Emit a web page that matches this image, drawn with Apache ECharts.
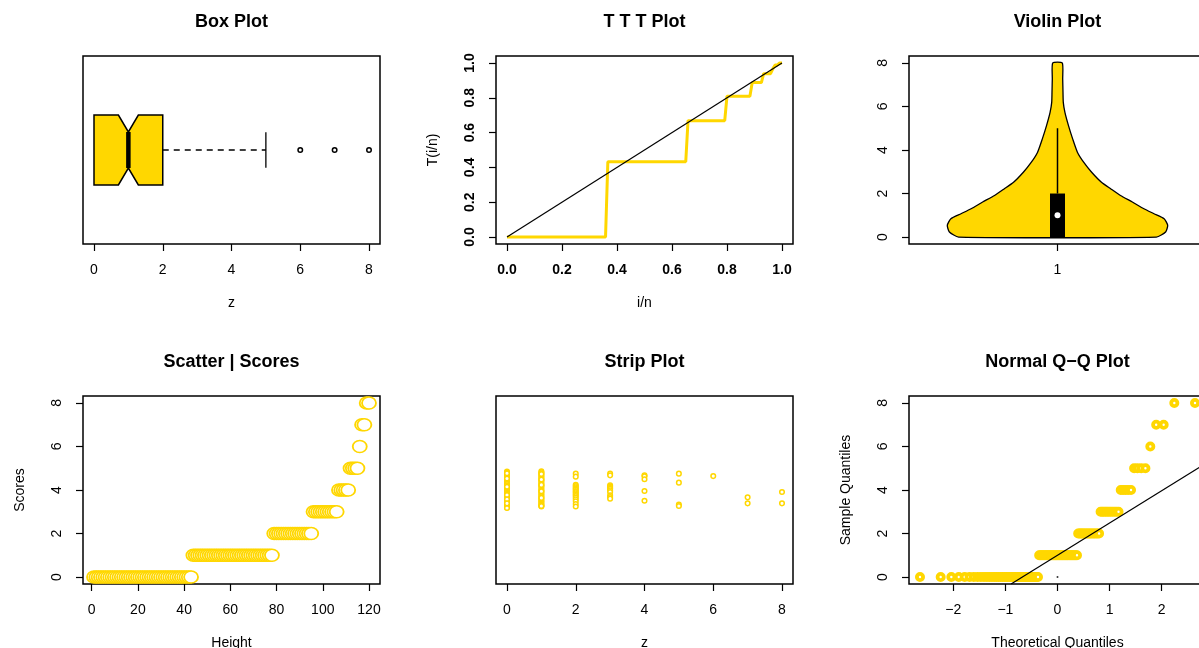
<!DOCTYPE html>
<html>
<head>
<meta charset="utf-8">
<script src="https://cdn.jsdelivr.net/npm/echarts@6/dist/echarts.min.js"></script>
<style>
  html, body { margin: 0; padding: 0; background: #fff; overflow: hidden; }
  #chart { width: 1212px; height: 648px; }
</style>
</head>
<body>
<div id="chart"></div>
<script>
// sample, sorted (n = 120)
const z = [
  0,0,0,0,0,0,0,0,0,0, 0,0,0,0,0,0,0,0,0,0, 0,0,0,0,0,0,0,0,0,0, 0,0,0,0,0,0,0,0,0,0, 0,0,0,
  1,1,1,1,1,1,1,1,1,1, 1,1,1,1,1,1,1,1,1,1, 1,1,1,1,1,1,1,1,1,1, 1,1,1,1,1,
  2,2,2,2,2,2,2,2,2,2, 2,2,2,2,2,2,2,
  3,3,3,3,3,3,3,3,3,3, 3,
  4,4,4,4,4,
  5,5,5,5,
  6,
  7,7,
  8,8
];

// box plot: lower whisker, Q1, median, Q3, upper whisker
const boxStats = [0, 0, 1, 2, 5];
const boxNotch = [0.71, 1.29];
const boxOutliers = [6, 7, 8];

// TTT plot corners (i/n, T(i/n))
const tttPoints = [
  [0, 0], [0.3583, 0], [0.3667, 0.4326], [0.65, 0.4326], [0.6583, 0.6685],
  [0.7917, 0.6685], [0.8, 0.809], [0.8833, 0.809], [0.8917, 0.8876], [0.925, 0.8876],
  [0.9333, 0.9382], [0.9583, 0.9382], [0.9667, 0.9663], [0.975, 0.9888], [0.9833, 0.9888],
  [0.9917, 1], [1, 1]
];
const tttDiagonal = [[0, 0], [1, 1]];

// violin outline (value, half width in x units)
const violinY = [0, 0.23, 0.54, 0.84, 1.07, 1.3, 1.61, 1.91, 2.22, 2.52, 2.98, 3.44, 3.9, 4.51, 5.12, 5.73, 6.19, 6.65, 7.27, 8];
const violinHalfWidth = [0.333, 0.364, 0.371, 0.359, 0.325, 0.291, 0.252, 0.212, 0.179, 0.148, 0.115, 0.088, 0.067, 0.051, 0.037, 0.025, 0.0195, 0.0185, 0.0175, 0.016];
const violinBox = [0, 1, 2, 5]; // Q1, median, Q3, whisker top

// strip chart jitter, one list per value 0..8
const stripJitter = [
  [1.098, 1.093, 1.086, 1.081, 1.075, 1.070, 1.064, 1.058, 1.053, 1.047,
   1.042, 1.036, 1.031, 1.025, 1.020, 1.014, 1.009, 1.003, 0.998, 0.992,
   0.987, 0.981, 0.976, 0.970, 0.965, 0.959, 0.954, 0.948, 0.943, 0.937,
   0.932, 0.926, 0.921, 0.916, 0.911, 0.907, 0.904, 1.089, 1.061, 1.017,
   0.973, 0.951, 0.929],
  [1.099, 1.094, 1.088, 1.080, 1.073, 1.067, 1.059, 1.052, 1.046, 1.038,
   1.031, 1.024, 1.018, 1.010, 1.003, 0.996, 0.989, 0.982, 0.975, 0.968,
   0.961, 0.953, 0.946, 0.940, 0.934, 0.927, 0.921, 0.916, 0.912, 1.085,
   1.056, 1.027, 0.993, 0.958, 0.915],
  [1.087, 1.071, 1.028, 1.021, 1.015, 1.008, 1.002, 0.995, 0.989, 0.982,
   0.975, 0.968, 0.960, 0.951, 0.940, 0.925, 0.912],
  [1.087, 1.078, 1.025, 1.019, 1.012, 1.006, 0.998, 0.989, 0.972, 0.963, 0.954],
  [1.078, 1.073, 1.057, 0.995, 0.943],
  [1.087, 1.039, 0.922, 0.915],
  [1.074],
  [0.961, 0.929],
  [0.989, 0.929]
];

// normal Q-Q: theoretical quantile for each rank
const qqTheoretical = [
  -2.6380, -2.2412, -2.0368, -1.8932, -1.7805, -1.6867, -1.6057, -1.5341, -1.4697, -1.4107,
  -1.3564, -1.3057, -1.2582, -1.2133, -1.1709, -1.1303, -1.0916, -1.0546, -1.0187, -0.9843,
  -0.9510, -0.9185, -0.8872, -0.8566, -0.8268, -0.7978, -0.7694, -0.7416, -0.7144, -0.6877,
  -0.6614, -0.6356, -0.6103, -0.5853, -0.5607, -0.5364, -0.5125, -0.4888, -0.4654, -0.4422,
  -0.4193, -0.3966, -0.3741, -0.3518, -0.3297, -0.3077, -0.2858, -0.2642, -0.2426, -0.2211,
  -0.1998, -0.1785, -0.1573, -0.1362, -0.1151, -0.0941, -0.0732, -0.0522, -0.0313, -0.0104,
  0.0104, 0.0313, 0.0522, 0.0732, 0.0941, 0.1151, 0.1362, 0.1573, 0.1785, 0.1998,
  0.2211, 0.2426, 0.2642, 0.2858, 0.3077, 0.3297, 0.3518, 0.3741, 0.3966, 0.4193,
  0.4422, 0.4654, 0.4888, 0.5125, 0.5364, 0.5607, 0.5853, 0.6103, 0.6356, 0.6614,
  0.6877, 0.7144, 0.7416, 0.7694, 0.7978, 0.8268, 0.8566, 0.8872, 0.9185, 0.9510,
  0.9843, 1.0187, 1.0546, 1.0916, 1.1303, 1.1709, 1.2133, 1.2582, 1.3057, 1.3564,
  1.4107, 1.4697, 1.5341, 1.6057, 1.6867, 1.7805, 1.8932, 2.0368, 2.2412, 2.6380
];
const qqLine = [[-0.89, -0.32], [2.85, 5.23]];
const qqDot = [[0, 0]];

// tick labels
const ticksZ = [0, 2, 4, 6, 8];
const ticksUnit = [0, 0.2, 0.4, 0.6, 0.8, 1.0];
const ticksViolinX = [1];
const ticksHeight = [0, 20, 40, 60, 80, 100, 120];
const ticksQQ = [-2, -1, 0, 1, 2];

const GOLD = '#FFD700';
const FONT = 'Liberation Sans, Arial, Helvetica, sans-serif';

const cols = [83, 496, 909];
const rows = [56, 396];
const W = 297, H = 188;

const grids = [];
rows.forEach(top => cols.forEach(left => {
  grids.push({ left: left, top: top, width: W, height: H, show: true,
    outerBoundsMode: 'none', containLabel: false,
    borderColor: '#000', borderWidth: 1.5, backgroundColor: 'transparent' });
}));

function axis(gridIndex, min, max, ticks, opts) {
  opts = opts || {};
  return {
    type: 'value', gridIndex: gridIndex, min: min, max: max,
    axisLine: { show: false, onZero: false },
    splitLine: { show: false },
    axisTick: { show: !!ticks, customValues: ticks, length: 7, inside: false,
      lineStyle: { color: '#000', width: 1.2 } },
    axisLabel: { show: !!ticks, customValues: ticks, color: '#000', fontFamily: FONT,
      fontSize: 14, fontWeight: opts.bold ? 'bold' : 'normal', margin: opts.margin || 19,
      rotate: opts.rotate || 0, formatter: opts.formatter,
      showMinLabel: true, showMaxLabel: true, hideOverlap: false },
    name: opts.name || '', nameLocation: 'middle', nameGap: opts.nameGap || 52,
    nameTextStyle: { color: '#000', fontFamily: FONT, fontSize: 14 }
  };
}

const minus = v => String(v).replace('-', '\u2212');
const oneDec = v => v.toFixed(1);

const xAxes = [
  axis(0, -0.32, 8.32, ticksZ, { name: 'z' }),
  axis(1, -0.04, 1.04, ticksUnit, { name: 'i/n', bold: true, formatter: oneDec }),
  axis(2, 0.5, 1.5, ticksViolinX),
  axis(3, -3.76, 124.76, ticksHeight, { name: 'Height' }),
  axis(4, -0.32, 8.32, ticksZ, { name: 'z' }),
  axis(5, -2.849, 2.849, ticksQQ, { name: 'Theoretical Quantiles', formatter: minus })
];
const yAxes = [
  axis(0, 0, 1, null),
  axis(1, -0.04, 1.04, ticksUnit, { name: 'T(i/n)', nameGap: 56, bold: true, rotate: 90, formatter: oneDec }),
  axis(2, -0.32, 8.32, ticksZ, { rotate: 90 }),
  axis(3, -0.32, 8.32, ticksZ, { name: 'Scores', nameGap: 56, rotate: 90 }),
  axis(4, 0.5, 1.5, null),
  axis(5, -0.32, 8.32, ticksZ, { name: 'Sample Quantiles', nameGap: 56, rotate: 90 })
];

function seg(a, b, style) {
  return { type: 'line', shape: { x1: a[0], y1: a[1], x2: b[0], y2: b[1] },
    style: Object.assign({ stroke: '#000', lineWidth: 1.5 }, style) };
}

function renderBox(params, api) {
  const q1 = boxStats[1], med = boxStats[2], q3 = boxStats[3], hi = boxStats[4];
  const c = 0.5, h = 0.186, hn = 0.096, hs = 0.094;
  const p = (x, y) => api.coord([x, y]);
  const poly = [
    p(q1, c + h), p(boxNotch[0], c + h), p(med, c + hn), p(boxNotch[1], c + h), p(q3, c + h),
    p(q3, c - h), p(boxNotch[1], c - h), p(med, c - hn), p(boxNotch[0], c - h), p(q1, c - h)
  ];
  return { type: 'group', children: [
    seg(p(q3, c), p(hi, c), { lineDash: [6, 5], lineWidth: 1.3 }),
    seg(p(hi, c - hs), p(hi, c + hs), { lineWidth: 1.3 }),
    { type: 'polygon', shape: { points: poly }, style: { fill: GOLD, stroke: '#000', lineWidth: 1.5 } },
    seg(p(med, c - hn), p(med, c + hn), { lineWidth: 4.5 })
  ] };
}

function renderViolin(params, api) {
  const p = (x, y) => api.coord([x, y]);
  const pts = [];
  violinY.forEach((y, i) => pts.push(p(1 - violinHalfWidth[i], y)));
  for (let i = violinY.length - 1; i >= 0; i--) pts.push(p(1 + violinHalfWidth[i], violinY[i]));
  const bw = 0.0253;
  const tl = p(1 - bw, violinBox[2]), br = p(1 + bw, violinBox[0]);
  const m = p(1, violinBox[1]);
  return { type: 'group', children: [
    { type: 'polygon', shape: { points: pts, smooth: 0.2 }, style: { fill: GOLD, stroke: '#000', lineWidth: 1.3 } },
    seg(p(1, violinBox[2]), p(1, violinBox[3]), { lineWidth: 1.5 }),
    { type: 'rect', shape: { x: tl[0], y: tl[1], width: br[0] - tl[0], height: br[1] - tl[1] }, style: { fill: '#000' } },
    { type: 'circle', shape: { cx: m[0], cy: m[1], r: 3 }, style: { fill: '#fff' } }
  ] };
}

const stripData = [];
stripJitter.forEach((list, v) => list.forEach(j => stripData.push([v, j])));

const ring = (stroke, width) => ({ color: '#fff', borderColor: stroke, borderWidth: width, opacity: 1 });

const series = [
  { type: 'custom', xAxisIndex: 0, yAxisIndex: 0, renderItem: renderBox, data: [[0, 0]] },
  { type: 'scatter', xAxisIndex: 0, yAxisIndex: 0, data: boxOutliers.map(v => [v, 0.5]),
    symbol: 'circle', symbolSize: 4.5, itemStyle: ring('#000', 1.5) },

  { type: 'line', xAxisIndex: 1, yAxisIndex: 1, data: tttPoints, symbol: 'none',
    lineStyle: { color: GOLD, width: 3 } },
  { type: 'line', xAxisIndex: 1, yAxisIndex: 1, data: tttDiagonal, symbol: 'none',
    lineStyle: { color: '#000', width: 1.2 } },

  { type: 'custom', xAxisIndex: 2, yAxisIndex: 2, renderItem: renderViolin, data: [[1, 0]] },

  { type: 'scatter', xAxisIndex: 3, yAxisIndex: 3, data: z.map((v, i) => [i + 1, v]),
    symbol: 'circle', symbolSize: [14, 12], itemStyle: ring(GOLD, 1.7) },

  { type: 'scatter', xAxisIndex: 4, yAxisIndex: 4, data: stripData,
    symbol: 'circle', symbolSize: 4.6, itemStyle: ring(GOLD, 1.5) },

  { type: 'scatter', xAxisIndex: 5, yAxisIndex: 5, data: z.map((v, i) => [qqTheoretical[i], v]),
    symbol: 'circle', symbolSize: 6.2, itemStyle: ring(GOLD, 3.8) },
  { type: 'line', xAxisIndex: 5, yAxisIndex: 5, data: qqLine, symbol: 'none',
    lineStyle: { color: '#000', width: 1.2 } },
  { type: 'scatter', xAxisIndex: 5, yAxisIndex: 5, data: qqDot, symbol: 'circle', symbolSize: 2,
    itemStyle: { color: '#000' } }
];

const titles = ['Box Plot', 'T T T Plot', 'Violin Plot', 'Scatter | Scores', 'Strip Plot', 'Normal Q\u2212Q Plot'];
const graphic = titles.map((t, i) => ({
  type: 'text',
  x: cols[i % 3] + W / 2,
  y: (i < 3 ? 22 : 362.5),
  style: { text: t, textAlign: 'center', textVerticalAlign: 'middle',
    font: 'bold 18px ' + FONT, fill: '#000' }
}));

const chart = echarts.init(document.getElementById('chart'), null, { renderer: 'canvas' });
chart.setOption({
  animation: false,
  grid: grids,
  xAxis: xAxes,
  yAxis: yAxes,
  series: series,
  graphic: graphic
});
</script>
</body>
</html>
